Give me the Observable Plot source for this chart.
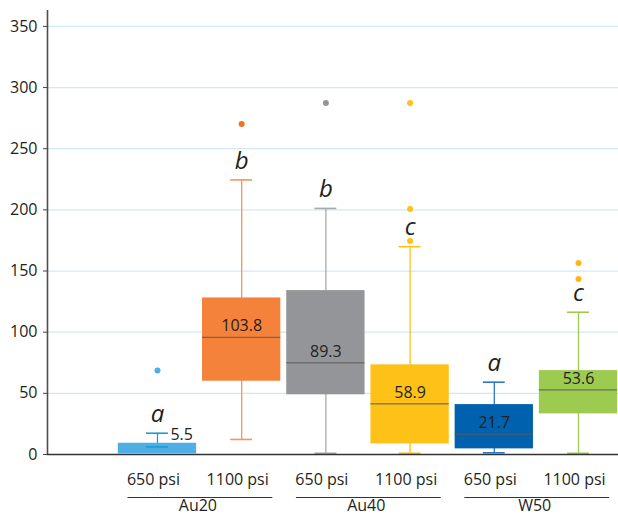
<!DOCTYPE html>
<html><head><meta charset="utf-8">
<script src="https://cdn.jsdelivr.net/npm/d3@7"></script>
<script src="https://cdn.jsdelivr.net/npm/@observablehq/plot@0.6"></script>
<style>html,body{margin:0;padding:0;background:#fff;}</style>
</head><body><div id="chart"></div>
<script>
// ---- data ----
const groupNames = ["Au20", "Au40", "W50"];
const pressures = ["650 psi", "1100 psi", "650 psi", "1100 psi", "650 psi", "1100 psi"];
const boxGroup  = ["Au20", "Au20", "Au40", "Au40", "W50", "W50"];
const q1        = [0.5, 59.9, 48.8, 8.7, 4.6, 33.2];
const median    = [null, 95.8, 74.9, 41.4, 16.6, 52.8];
const q3        = [9.2, 128.0, 134.0, 73.3, 40.8, 68.6];
const whiskLo   = [6.2, 12.3, 1.0, 1.0, 1.4, 1.0];
const whiskHi   = [17.4, 224.5, 201.2, 169.9, 59.1, 116.3];
const means     = [5.5, 103.8, 89.3, 58.9, 21.7, 53.6];
const letters   = ["a", "b", "b", "c", "a", "c"];
const outlierBox   = [0, 1, 2, 3, 3, 3, 5, 5];
const outlierValue = [68.6, 270.2, 287.3, 287.3, 200.7, 174.6, 156.6, 143.5];
const yTicks = [0, 50, 100, 150, 200, 250, 300, 350];

// ---- styles ----
const boxColors     = ["#4FAEE3", "#F4823A", "#939598", "#FDC118", "#0062AE", "#9CCB50"];
const whiskerColors = ["#1E9BD7", "#F4965B", "#A7A9AC", "#FDC118", "#2C79BF", "#9CCB50"];
const outlierColors = ["#4FAEE3", "#F26F23", "#939598", "#FDC118", "#0062AE", "#FDB913"];
const font = "'Open Sans', 'DejaVu Sans', sans-serif";
const textColor = "#231f20";

const boxes = pressures.map((p, i) => ({
  i, pressure: p, group: boxGroup[i], q1: q1[i], median: median[i], q3: q3[i],
  lo: whiskLo[i], hi: whiskHi[i], mean: means[i], letter: letters[i]
}));
const outliers = outlierBox.map((b, k) => ({i: b, v: outlierValue[k]}));
const groups = groupNames.map((name, g) => ({g, name}));

const half = 0.465, cap = 0.13;
const xDomain = [-1.306, 5.475];

const chart = Plot.plot({
  width: 618, height: 517,
  marginLeft: 47, marginRight: 0, marginTop: 10, marginBottom: 63,
  style: {fontFamily: font, fontSize: "16px", color: textColor, background: "#fff"},
  x: {type: "linear", domain: xDomain, axis: null},
  y: {domain: [0, 363], axis: null},
  marks: [
    Plot.gridY(yTicks.filter(t => t > 0), {stroke: "#d3e7f5", strokeOpacity: 1, strokeWidth: 1.2}),
    // whiskers
    Plot.ruleX(boxes, {x: "i", y1: "lo", y2: "hi", stroke: d => whiskerColors[d.i], strokeWidth: 1.3}),
    // boxes
    Plot.rectY(boxes, {x1: d => d.i - half, x2: d => d.i + half, y1: "q1", y2: "q3", fill: d => boxColors[d.i]}),
    // medians
    Plot.ruleY(boxes.filter(d => d.median != null), {y: "median", x1: d => d.i - half, x2: d => d.i + half, stroke: "#5a5a5a", strokeWidth: 1}),
    // caps
    Plot.ruleY(boxes, {y: "hi", x1: d => d.i - cap, x2: d => d.i + cap, stroke: d => whiskerColors[d.i], strokeWidth: 1.6}),
    Plot.ruleY(boxes, {y: "lo", x1: d => d.i - cap, x2: d => d.i + cap, stroke: d => whiskerColors[d.i], strokeWidth: 1.6}),
    // outliers
    Plot.dot(outliers, {x: "i", y: "v", r: 3, fill: d => outlierColors[d.i], stroke: "none"}),
    // mean labels
    Plot.text(boxes.filter(d => d.q3 - d.q1 >= 20), {x: "i", y: "median", dy: -11, text: d => d.mean.toFixed(1), fontSize: 16, fill: textColor}),
    Plot.text(boxes.filter(d => d.q3 - d.q1 < 20), {x: "i", y: "hi", dx: 13, dy: 2, textAnchor: "start", text: d => d.mean.toFixed(1), fontSize: 16, fill: textColor}),
    // significance letters
    Plot.text(boxes, {x: "i", y: "hi", dy: -19, text: "letter", fontSize: 24, fontStyle: "italic", fill: textColor}),
    // axes
    Plot.axisY({ticks: yTicks, tickSize: 4, tickPadding: 6, fontSize: 16, stroke: "#444", fill: textColor}),
    Plot.ruleX([xDomain[0]], {stroke: "#4d4d4d", strokeWidth: 1.6}),
    Plot.ruleY([0], {stroke: "#333", strokeWidth: 1.6}),
    // category labels
    Plot.text(boxes, {x: "i", y: () => 0, dy: 25, dx: -4, text: "pressure", fontSize: 16, fill: textColor}),
    Plot.ruleY(groups, {y: () => 0, dy: 43, x1: d => 2 * d.g - 0.35, x2: d => 2 * d.g + 1.37, stroke: "#333", strokeWidth: 1.2}),
    Plot.text(groups, {x: d => 2 * d.g + 0.48, y: () => 0, dy: 51, text: "name", fontSize: 16, fill: textColor})
  ]
});
document.getElementById("chart").appendChild(chart);
</script>
</body></html>
